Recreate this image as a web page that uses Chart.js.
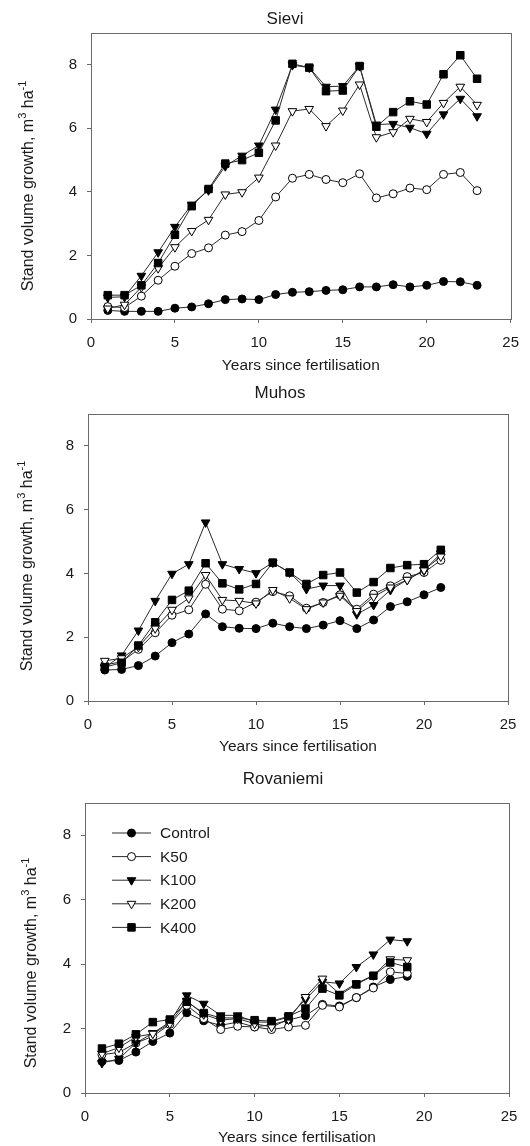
<!DOCTYPE html>
<html><head><meta charset="utf-8">
<script src="https://cdn.jsdelivr.net/npm/chart.js@4.4.1/dist/chart.umd.min.js"></script>
<style>
html,body{margin:0;padding:0;background:#fff;width:530px;height:1146px;overflow:hidden}
.p{position:absolute;left:0;width:530px}
</style></head><body>
<div class="p" style="top:0"><canvas id="c1" width="530" height="380"></canvas></div>
<div class="p" style="top:380px"><canvas id="c2" width="530" height="380"></canvas></div>
<div class="p" style="top:760px"><canvas id="c3" width="530" height="386"></canvas></div>
<script>
// ---------- DATA ----------
const seriesNames = ['Control','K50','K100','K200','K400'];
const xTicks = [0,5,10,15,20,25];
const yTicks = [0,2,4,6,8];

const sieviYears   = [1,2,3,4,5,6,7,8,9,10,11,12,13,14,15,16,17,18,19,20,21,22,23];
const sieviControl = [0.27,0.24,0.24,0.24,0.34,0.38,0.48,0.61,0.63,0.61,0.77,0.84,0.86,0.90,0.92,1.01,1.01,1.08,1.01,1.06,1.18,1.17,1.06];
const sieviK50     = [0.39,0.36,0.72,1.22,1.66,2.06,2.24,2.64,2.75,3.10,3.84,4.43,4.55,4.39,4.29,4.57,3.81,3.94,4.12,4.07,4.55,4.61,4.04];
const sieviK100    = [0.68,0.70,1.36,2.10,2.90,3.60,4.05,4.81,5.14,5.46,6.59,7.99,7.91,7.31,7.33,7.96,6.12,6.14,6.02,5.83,6.44,6.93,6.38];
const sieviK200    = [0.33,0.45,1.00,1.60,2.26,2.77,3.12,3.92,3.99,4.45,5.46,6.54,6.61,6.07,6.56,7.38,5.72,5.88,6.30,6.20,6.80,7.31,6.74];
const sieviK400    = [0.75,0.75,1.06,1.76,2.65,3.55,4.09,4.89,5.00,5.23,6.25,8.03,7.91,7.17,7.19,7.96,6.05,6.51,6.85,6.75,7.70,8.30,7.56];

const muhosYears   = [1,2,3,4,5,6,7,8,9,10,11,12,13,14,15,16,17,18,19,20,21];
const muhosControl = [0.97,0.99,1.11,1.41,1.83,2.10,2.73,2.33,2.28,2.27,2.44,2.33,2.27,2.38,2.52,2.27,2.54,2.96,3.11,3.33,3.56];
const muhosK50     = [1.13,1.23,1.62,2.14,2.69,2.86,3.66,2.88,2.83,3.10,3.43,3.30,2.91,3.09,3.33,2.88,3.35,3.61,3.90,4.03,4.41];
const muhosK100    = [1.05,1.43,2.21,3.14,3.99,4.29,5.60,4.29,4.14,4.01,4.34,4.03,3.51,3.62,3.62,2.72,3.01,3.48,3.80,4.09,4.63];
const muhosK200    = [1.26,1.34,1.70,2.28,2.86,3.22,3.95,3.17,3.14,3.06,3.48,3.22,2.88,3.09,3.30,2.82,3.27,3.56,3.80,4.11,4.53];
const muhosK400    = [1.06,1.20,1.74,2.47,3.17,3.46,4.32,3.69,3.50,3.67,4.34,4.03,3.67,3.95,4.03,3.40,3.73,4.17,4.26,4.29,4.74];

const rovaYears    = [1,2,3,4,5,6,7,8,9,10,11,12,13,14,15,16,17,18,19];
const rovaControl  = [0.98,1.01,1.27,1.60,1.86,2.49,2.24,2.10,2.20,2.05,2.12,2.26,2.40,2.75,2.70,2.96,3.29,3.52,3.62];
const rovaK50      = [1.19,1.26,1.55,1.76,2.13,2.72,2.31,1.97,2.07,2.05,1.97,2.05,2.10,2.72,2.67,2.96,3.26,3.76,3.71];
const rovaK100     = [0.93,1.06,1.55,1.86,2.20,3.03,2.77,2.41,2.41,2.20,2.20,2.36,2.90,3.45,3.40,3.91,4.30,4.76,4.71];
const rovaK200     = [1.22,1.41,1.74,1.84,2.15,2.86,2.44,2.26,2.31,2.15,2.05,2.28,2.98,3.55,3.08,3.40,3.65,4.15,4.12];
const rovaK400     = [1.38,1.53,1.82,2.20,2.28,2.83,2.48,2.33,2.33,2.26,2.23,2.38,2.62,3.24,3.03,3.37,3.64,4.05,3.91];

const xTitle = 'Years since fertilisation';
const yTitleMain = 'Stand volume growth, m';
const yTitleSup1 = '3';
const yTitleMid = ' ha';
const yTitleSup2 = '-1';

// ---------- STYLE ----------
const FONT = '"Liberation Sans", Arial, Helvetica, sans-serif';
const TXT = '#1a1a1a';
const FRAME = '#6a6a6a';
const styles = [
  {pointStyle:'circle',   bg:'#000', r:4,   rot:0},
  {pointStyle:'circle',   bg:'#fff', r:4,   rot:0},
  {pointStyle:'triangle', bg:'#000', r:5,   rot:180},
  {pointStyle:'triangle', bg:'#fff', r:5,   rot:180},
  {pointStyle:'rect',     bg:'#000', r:5.3, rot:0},
];

function buildDatasets(years, series){
  return series.map((vals,i)=>({
    label: seriesNames[i],
    data: vals.map((v,j)=>({x:years[j], y:v})),
    borderColor:'#2a2a2a', borderWidth:1,
    pointStyle: styles[i].pointStyle,
    pointRadius: styles[i].r, pointHoverRadius: styles[i].r,
    pointRotation: styles[i].rot,
    pointBackgroundColor: styles[i].bg,
    pointBorderColor:'#000', pointBorderWidth:1,
    order: 5 - i,
    tension:0, fill:false
  }));
}

const framePlugin = {
  id:'frame',
  beforeDatasetsDraw(chart){
    const a = chart.chartArea, c = chart.ctx;
    c.save(); c.strokeStyle = FRAME; c.lineWidth = 1;
    c.strokeRect(Math.round(a.left)+0.5, Math.round(a.top)+0.5, Math.round(a.right-a.left), Math.round(a.bottom-a.top));
    c.restore();
  }
};

const yTitlePlugin = {
  id:'ytitle',
  afterDraw(chart, args, opts){
    const c = chart.ctx;
    c.save();
    c.translate(opts.x, opts.y);
    c.rotate(-Math.PI/2);
    c.fillStyle = TXT;
    c.textBaseline = 'middle';
    const big = '16px ' + FONT, small = '11px ' + FONT;
    c.font = big; const w1 = c.measureText(yTitleMain).width; const w3 = c.measureText(yTitleMid).width;
    c.font = small; const w2 = c.measureText(yTitleSup1).width; const w4 = c.measureText(yTitleSup2).width;
    let x = -(w1+w2+w3+w4)/2;
    c.textAlign = 'left';
    c.font = big; c.fillText(yTitleMain, x, 0); x += w1;
    c.font = small; c.fillText(yTitleSup1, x, -6); x += w2;
    c.font = big; c.fillText(yTitleMid, x, 0); x += w3;
    c.font = small; c.fillText(yTitleSup2, x, -6);
    c.restore();
  }
};

function drawMarker(c, st, x, y){
  c.beginPath();
  if (st.pointStyle === 'circle') {
    c.arc(x, y, st.r, 0, Math.PI*2);
  } else if (st.pointStyle === 'rect') {
    const s = st.r*Math.SQRT1_2;
    c.rect(x-s, y-s, 2*s, 2*s);
  } else {
    const r = st.r;
    c.moveTo(x, y + r);
    c.lineTo(x - r*Math.sin(Math.PI/3), y - r*0.5);
    c.lineTo(x + r*Math.sin(Math.PI/3), y - r*0.5);
    c.closePath();
  }
  c.fillStyle = st.bg; c.fill();
  c.strokeStyle = '#000'; c.lineWidth = 1; c.stroke();
}

const legendPlugin = {
  id:'customLegend',
  afterDraw(chart, args, opts){
    if (!opts.show) return;
    const c = chart.ctx;
    c.save();
    chart.data.datasets.forEach((ds,i)=>{
      const y = opts.y0 + i*opts.dy;
      c.strokeStyle = '#2a2a2a'; c.lineWidth = 1;
      c.beginPath(); c.moveTo(opts.x0, y); c.lineTo(opts.x1, y); c.stroke();
      drawMarker(c, styles[i], (opts.x0+opts.x1)/2, y);
      c.fillStyle = TXT; c.font = '15.5px ' + FONT;
      c.textAlign = 'left'; c.textBaseline = 'middle';
      c.fillText(ds.label, opts.tx, y+1);
    });
    c.restore();
  }
};

function makeChart(id, L, title, years, series, legend){
  const H = document.getElementById(id).height;
  const padR = 530 - L.right;
  const padL = 2*L.titleX - 530 + padR;
  return new Chart(document.getElementById(id), {
    type:'line',
    data:{ datasets: buildDatasets(years, series) },
    options:{
      responsive:false, animation:false, devicePixelRatio:1,
      layout:{ padding:{ left:padL, right:padR, top:0, bottom:0 } },
      plugins:{
        legend:{display:false}, tooltip:{enabled:false},
        title:{ display:true, text:title, color:TXT,
          font:{family:FONT, size:17, weight:'normal'},
          padding:{ top:L.titleY-10.2, bottom:L.top-L.titleY-10.2 } },
        ytitle:{ x:L.yTitleX, y:L.yTitleY },
        customLegend: legend || {show:false}
      },
      scales:{
        x:{ type:'linear', min:0, max:25,
          afterFit(s){ s.height = H - L.bottom; },
          afterBuildTicks(s){ s.ticks = xTicks.map(v=>({value:v})); },
          border:{display:false},
          grid:{ drawOnChartArea:false, drawTicks:true, tickLength:4, color:FRAME },
          ticks:{ color:TXT, font:{family:FONT, size:15}, padding:11, maxRotation:0 },
          title:{ display:true, text:xTitle, color:TXT, font:{family:FONT, size:15.5},
            padding:{top:0, bottom:L.xTitlePad} }
        },
        y:{ type:'linear', min:0, max:9,
          afterFit(s){ s.width = L.left - padL; },
          afterBuildTicks(s){ s.ticks = yTicks.map(v=>({value:v})); },
          border:{display:false},
          grid:{ drawOnChartArea:false, drawTicks:true, tickLength:4, color:FRAME },
          ticks:{ color:TXT, font:{family:FONT, size:15}, padding:10 }
        }
      }
    },
    plugins:[framePlugin, yTitlePlugin, legendPlugin]
  });
}

makeChart('c1', {left:91, right:511, top:33, bottom:319, titleY:19, titleX:285, xTitlePad:5, yTitleX:29, yTitleY:186},
  'Sievi', sieviYears, [sieviControl, sieviK50, sieviK100, sieviK200, sieviK400]);
makeChart('c2', {left:88, right:508, top:34, bottom:321, titleY:13, titleX:280, xTitlePad:4, yTitleX:28, yTitleY:186},
  'Muhos', muhosYears, [muhosControl, muhosK50, muhosK100, muhosK200, muhosK400]);
makeChart('c3', {left:85, right:509, top:43, bottom:333, titleY:19, titleX:283, xTitlePad:-1, yTitleX:32, yTitleY:203},
  'Rovaniemi', rovaYears, [rovaControl, rovaK50, rovaK100, rovaK200, rovaK400],
  {show:true, x0:112, x1:151, tx:160, y0:73, dy:23.6});
</script>
</body></html>
